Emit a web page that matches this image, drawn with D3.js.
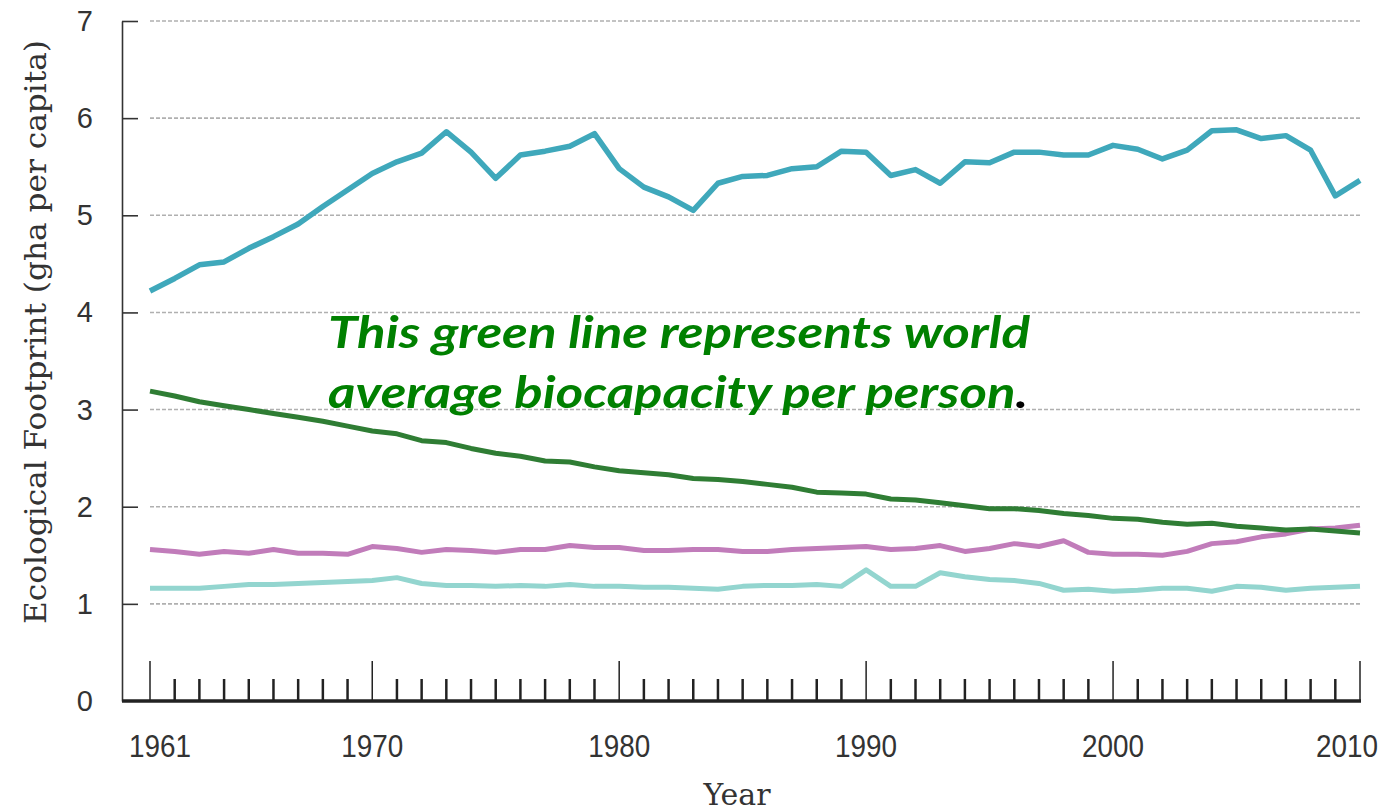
<!DOCTYPE html>
<html lang="en">
	<head>
		<meta charset="utf-8">
		<title>Ecological footprint per capita</title>
		<script src="https://d3js.org/d3.v7.min.js"></script>
		<style>
			body { margin: 0; background: #fff; }
		</style>
	</head>
	<body>
		<script type="text/javascript">
			// window size setup
			var w = 1388
			var h = 811

			// data
			var years = d3.range(1961, 2011)
			var majorYears = [1961, 1970, 1980, 1990, 2000, 2010]
			var yTicks = [0, 1, 2, 3, 4, 5, 6, 7]

			var highIncome = [4.22, 4.35, 4.49, 4.52, 4.66, 4.78, 4.91, 5.09, 5.26, 5.43,
				5.55, 5.64, 5.86, 5.65, 5.38, 5.62, 5.66, 5.71, 5.84, 5.48,
				5.29, 5.19, 5.05, 5.33, 5.40, 5.41, 5.48, 5.50, 5.66, 5.65,
				5.41, 5.47, 5.33, 5.55, 5.54, 5.65, 5.65, 5.62, 5.62, 5.72,
				5.68, 5.58, 5.67, 5.87, 5.88, 5.79, 5.82, 5.67, 5.20, 5.36]

			var biocapacity = [3.19, 3.14, 3.08, 3.04, 3.00, 2.96, 2.92, 2.88, 2.83, 2.78,
				2.75, 2.68, 2.66, 2.60, 2.55, 2.52, 2.47, 2.46, 2.41, 2.37,
				2.35, 2.33, 2.29, 2.28, 2.26, 2.23, 2.20, 2.15, 2.14, 2.13,
				2.08, 2.07, 2.04, 2.01, 1.98, 1.98, 1.96, 1.93, 1.91, 1.88,
				1.87, 1.84, 1.82, 1.83, 1.80, 1.78, 1.76, 1.77, 1.75, 1.73]

			var middleIncome = [1.56, 1.54, 1.51, 1.54, 1.52, 1.56, 1.52, 1.52, 1.51, 1.59,
				1.57, 1.53, 1.56, 1.55, 1.53, 1.56, 1.56, 1.60, 1.58, 1.58,
				1.55, 1.55, 1.56, 1.56, 1.54, 1.54, 1.56, 1.57, 1.58, 1.59,
				1.56, 1.57, 1.60, 1.54, 1.57, 1.62, 1.59, 1.65, 1.53, 1.51,
				1.51, 1.50, 1.54, 1.62, 1.64, 1.69, 1.72, 1.77, 1.78, 1.81]

			var lowIncome = [1.16, 1.16, 1.16, 1.18, 1.20, 1.20, 1.21, 1.22, 1.23, 1.24,
				1.27, 1.21, 1.19, 1.19, 1.18, 1.19, 1.18, 1.20, 1.18, 1.18,
				1.17, 1.17, 1.16, 1.15, 1.18, 1.19, 1.19, 1.20, 1.18, 1.35,
				1.18, 1.18, 1.32, 1.28, 1.25, 1.24, 1.21, 1.14, 1.15, 1.13,
				1.14, 1.16, 1.16, 1.13, 1.18, 1.17, 1.14, 1.16, 1.17, 1.18]

			var seriesNames = ["lowIncome", "middleIncome", "biocapacity", "highIncome"]
			var seriesValues = [lowIncome, middleIncome, biocapacity, highIncome]
			var seriesColors = ["#93d5cf", "#c17cba", "#2f7d34", "#3fa8bb"]

			// scale setup
			var xScale = d3.scaleLinear()
							.domain([1961, 2010])
							.range([150, 1360])

			var yScale = d3.scaleLinear()
							.domain([0, 7])
							.range([701, 21])

			// create SVG
			var svg = d3.select("body")
						.append("svg")
						.attr("width", w)
						.attr("height", h)

			// dashed grid lines
			svg.append("g")
				.selectAll("line")
				.data(yTicks.filter(function(d){ return d > 0 }))
				.enter()
				.append("line")
				.attr("x1", 150)
				.attr("x2", 1360)
				.attr("y1", function(d){ return yScale(d) })
				.attr("y2", function(d){ return yScale(d) })
				.attr("stroke", "#b0b0b0")
				.attr("stroke-width", 1.6)
				.attr("stroke-dasharray", "4,2")

			// Y axis (ticks point inward)
			var yAxis = d3.axisRight(yScale)
							.tickValues(yTicks.filter(function(d){ return d > 0 }))
							.tickSize(16)
							.tickSizeOuter(0)
							.tickFormat("")
			var yAxisG = svg.append("g")
				.attr("transform", "translate(122,0)")
				.call(yAxis)
			yAxisG.select(".domain").attr("stroke", "#333").attr("stroke-width", 1.6)
			yAxisG.selectAll(".tick line").attr("stroke", "#333").attr("stroke-width", 1.6)

			// Y tick labels
			svg.append("g")
				.selectAll("text")
				.data(yTicks)
				.enter()
				.append("text")
				.text(function(d){ return d })
				.attr("x", 93)
				.attr("y", function(d){ return yScale(d) + 10 })
				.attr("text-anchor", "end")
				.attr("font-family", "Liberation Sans, Arial, sans-serif")
				.attr("font-size", 29)
				.attr("fill", "#333")

			// X axis: thick baseline with year ticks pointing up
			var xAxisG = svg.append("g")
				.attr("transform", "translate(0,701)")
			xAxisG.append("line")
				.attr("x1", 122)
				.attr("x2", 1361)
				.attr("stroke", "#222")
				.attr("stroke-width", 3.5)

			xAxisG.selectAll("line.yr")
				.data(years)
				.enter()
				.append("line")
				.attr("class", "yr")
				.attr("x1", function(d){ return xScale(d) })
				.attr("x2", function(d){ return xScale(d) })
				.attr("y1", 0)
				.attr("y2", function(d){ return majorYears.indexOf(d) >= 0 ? -40 : -22 })
				.attr("stroke", "#222")
				.attr("stroke-width", function(d){ return majorYears.indexOf(d) >= 0 ? 1.5 : 2.5 })

			// year labels, condensed like the original; end labels nudged inward
			xAxisG.selectAll("text")
				.data(majorYears)
				.enter()
				.append("text")
				.text(function(d){ return d })
				.attr("x", function(d){
					if (d == 1961) return xScale(d) + 10
					if (d == 2010) return xScale(d) - 13
					return xScale(d)
				})
				.attr("y", 56)
				.attr("text-anchor", "middle")
				.attr("textLength", 62)
				.attr("lengthAdjust", "spacingAndGlyphs")
				.attr("font-family", "Liberation Sans, Arial, sans-serif")
				.attr("font-size", 32)
				.attr("fill", "#333")

			// lines
			var line = d3.line()
						.x(function(d, i){ return xScale(years[i]) })
						.y(function(d){ return yScale(d) })

			svg.append("g")
				.selectAll("path")
				.data(seriesValues)
				.enter()
				.append("path")
				.attr("class", function(d, i){ return seriesNames[i] })
				.attr("d", line)
				.attr("fill", "none")
				.attr("stroke", function(d, i){ return seriesColors[i] })
				.attr("stroke-width", function(d, i){ return i == 3 ? 5.5 : 5 })
				.attr("stroke-linejoin", "round")

			// axis titles
			svg.append("text")
				.text("Ecological Footprint (gha per capita)")
				.attr("transform", "translate(46,332) rotate(-90)")
				.attr("text-anchor", "middle")
				.attr("textLength", 584)
				.attr("lengthAdjust", "spacingAndGlyphs")
				.attr("font-family", "DejaVu Serif, serif")
				.attr("font-size", 30)
				.attr("fill", "#333")

			svg.append("text")
				.text("Year")
				.attr("x", 737)
				.attr("y", 805)
				.attr("text-anchor", "middle")
				.attr("font-family", "DejaVu Serif, serif")
				.attr("font-size", 30)
				.attr("fill", "#333")

			// annotation
			var note = svg.append("g")
				.attr("font-family", "Lato, Open Sans, sans-serif")
				.attr("font-style", "italic")
				.attr("font-weight", "bold")
				.attr("font-size", 44)
				.attr("fill", "#008000")

			note.append("text")
				.attr("x", 328)
				.attr("y", 348)
				.attr("textLength", 702)
				.attr("lengthAdjust", "spacingAndGlyphs")
				.text("This green line represents world")

			var note2 = note.append("text")
				.attr("x", 328)
				.attr("y", 408)
				.attr("textLength", 700)
				.attr("lengthAdjust", "spacingAndGlyphs")
			note2.append("tspan").text("average biocapacity per person")
			note2.append("tspan").attr("fill", "#000").text(".")
		</script>
	</body>
</html>
